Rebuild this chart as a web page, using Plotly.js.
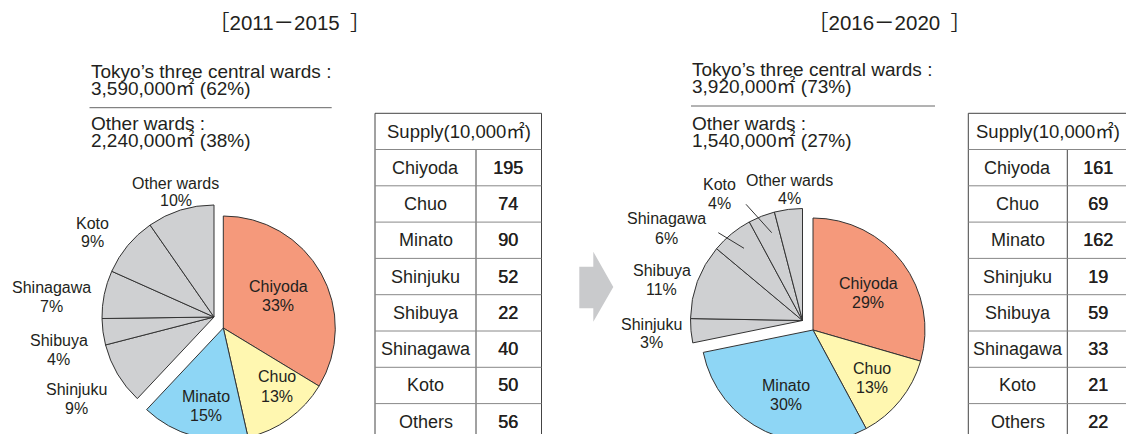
<!DOCTYPE html>
<html><head><meta charset="utf-8">
<script src="https://cdn.plot.ly/plotly-3.0.1.min.js"></script>
<style>html,body{margin:0;padding:0;overflow:hidden;background:#fff}#chart{width:1126px;height:460px}</style>
</head><body><div id="chart"></div>
<script>
// ---- data ----
const wards = ['Chiyoda','Chuo','Minato','Shinjuku','Shibuya','Shinagawa','Koto','Other wards'];
const tableNames = ['Chiyoda','Chuo','Minato','Shinjuku','Shibuya','Shinagawa','Koto','Others'];
const supply2011 = [195,74,90,52,22,40,50,56];
const supply2016 = [161,69,162,19,59,33,21,22];
const pct2011 = [33,13,15,9,4,7,9,10];
const pct2016 = [29,13,30,3,11,6,4,4];
const periods = ['［2011－2015\u2002］','［2016－2020\u2002］'];
const centralLabel = 'Tokyo\u2019s three central wards :';
const otherLabel = 'Other wards :';
const centralTotals = ['3,590,000㎡ (62%)','3,920,000㎡ (73%)'];
const otherTotals = ['2,240,000㎡ (38%)','1,540,000㎡ (27%)'];
const tableHeader = 'Supply(10,000㎡)';

// ---- styling / layout ----
const W = 1126, H = 460;
const FONT = 'Liberation Sans, Arial, Noto Sans CJK JP, sans-serif';
const TXT = '#231f20';
const COLORS = ['#F5997B','#FFF7B0','#8ED6F5','#CFD0D2','#CFD0D2','#CFD0D2','#CFD0D2','#CFD0D2'];
const R = 112;

function pieTrace(values, cx, cy, central) {
  const on = i => (i < 3) === central;
  return {
    type: 'pie', values: values, labels: wards, sort: false, direction: 'clockwise', rotation: 0,
    textinfo: 'none', hoverinfo: 'skip', showlegend: false,
    marker: {
      colors: wards.map((w, i) => on(i) ? COLORS[i] : 'rgba(0,0,0,0)'),
      line: { color: wards.map((w, i) => on(i) ? '#333' : 'rgba(0,0,0,0)'),
              width: wards.map((w, i) => on(i) ? 1 : 0) }
    },
    domain: { x: [(cx - R) / W, (cx + R) / W], y: [1 - (cy + R) / H, 1 - (cy - R) / H] }
  };
}

const traces = [
  pieTrace(supply2011, 223.3, 328, true),
  pieTrace(supply2011, 214, 317, false),
  pieTrace(supply2016, 813, 330, true),
  pieTrace(supply2016, 802.5, 320.5, false)
];

// label positions [x, yName, yPct]
const labPos1 = [[278,286,305.7],[276.5,376,396],[206,396,415],[76.5,389.3,408],[58.5,340,359],[51,287,306],[92,223,241.5],[175.5,183,200]];
const labPos2 = [[868,283.3,302.7],[872,368.3,387.7],[786,385,404.3],[651.5,324,342.7],[661.5,270,289.3],[666.5,218.3,238.3],[719.5,184,203.3],[789,180,198.3]];

const ann = [];
const shapes = [];
function txt(x, y, t, size, xanchor, fontExtra) {
  ann.push({ x: x, y: y, xref: 'x', yref: 'y', text: t, showarrow: false,
    xanchor: xanchor || 'center', yanchor: 'middle',
    font: Object.assign({ family: FONT, size: size, color: TXT }, fontExtra || {}) });
}
function line(x0, y0, x1, y1, color) {
  shapes.push({ type: 'line', xref: 'x', yref: 'y', x0: x0, y0: y0, x1: x1, y1: y1, line: { color: color, width: 1 }, layer: 'above' });
}

[[pct2011, labPos1], [pct2016, labPos2]].forEach(([pct, pos]) => {
  wards.forEach((w, i) => {
    txt(pos[i][0], pos[i][1], w, 16);
    txt(pos[i][0], pos[i][2], pct[i] + '%', 16);
  });
});

// titles and summaries
txt(289, 22, periods[0], 20.5);
txt(889, 22, periods[1], 20.5);
[[88.5, 71.4, 87.7, 107.7, 123.7, 140.3, 331.7], [690, 69.7, 86.3, 106, 123, 140, 935]].forEach((p, k) => {
  txt(p[0], p[1], centralLabel, 19, 'left');
  txt(p[0], p[2], centralTotals[k], 19, 'left');
  line(p[0] + 1, p[3], p[6], p[3], '#666');
  txt(p[0], p[4], otherLabel, 19, 'left');
  txt(p[0], p[5], otherTotals[k], 19, 'left');
});

// leader lines (right pie)
line(746, 204.3, 771.7, 232.7, '#333');
line(718.3, 232.7, 744, 248.3, '#333');

// arrow
shapes.push({ type: 'path', xref: 'x', yref: 'y', path: 'M579.3,266.7 L593.3,266.7 L593.3,251.7 L613.3,287 L593.3,321.7 L593.3,308.3 L579.3,308.3 Z',
  fillcolor: '#C9CACC', line: { width: 0 } });

// tables
function table(x0, xd, x1, hdrX, vals) {
  const top = 113.3, hdrBot = 149.5, rh = 36.3;
  line(x0, top, x1, top, '#444');
  line(x0, top, x0, 460, '#444');
  line(x1, top, x1, 460, '#444');
  line(xd, hdrBot, xd, 460, '#444');
  line(x0, hdrBot, x1, hdrBot, '#888');
  txt(hdrX, (top + hdrBot) / 2, tableHeader, 18.5);
  tableNames.forEach((n, i) => {
    const yt = hdrBot + i * rh;
    if (i > 0) line(x0, yt, x1, yt, '#888');
    txt((x0 + xd) / 2, yt + rh / 2, n, 18);
    txt((xd + x1) / 2 - 1, yt + rh / 2, String(vals[i]), 18, 'center', { shadow: '0.5px 0 0 ' + TXT });
  });
  line(x0, hdrBot + 8 * rh, x1, hdrBot + 8 * rh, '#888');
}
table(375, 476, 541.5, 459, supply2011);
table(968.3, 1067.3, 1130, 1047.5, supply2016);

const layout = {
  width: W, height: H, margin: { l: 0, r: 0, t: 0, b: 0 },
  paper_bgcolor: '#fff', plot_bgcolor: 'rgba(0,0,0,0)',
  xaxis: { range: [0, W], visible: false, fixedrange: true, domain: [0, 1] },
  yaxis: { range: [H, 0], visible: false, fixedrange: true, domain: [0, 1] },
  showlegend: false, annotations: ann, shapes: shapes
};
Plotly.newPlot('chart', traces, layout, { staticPlot: true, displayModeBar: false });
</script></body></html>
